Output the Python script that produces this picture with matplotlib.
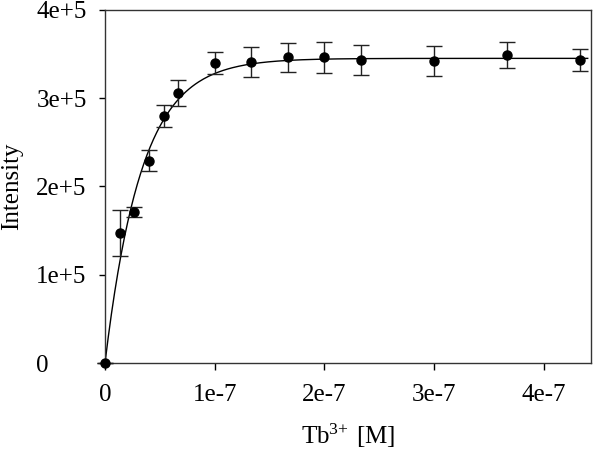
import numpy as np
import matplotlib
matplotlib.use('Agg')
import matplotlib.pyplot as plt

plt.rcParams['font.family'] = ['Liberation Serif', 'DejaVu Serif']
plt.rcParams['mathtext.fontset'] = 'custom'
plt.rcParams['mathtext.rm'] = 'Liberation Serif'
plt.rcParams['mathtext.default'] = 'regular'

# Tb3+ concentration [M] and measured intensity with error bars
conc = np.array([0, 1.333, 2.667, 4.0, 5.333, 6.667, 10.0, 13.33, 16.67,
                 20.0, 23.33, 30.0, 36.67, 43.33]) * 1e-8
intensity = np.array([0, 1.47, 1.71, 2.29, 2.80, 3.06, 3.40, 3.41, 3.46,
                      3.46, 3.43, 3.42, 3.49, 3.43]) * 1e5
err = np.array([0, 0.26, 0.06, 0.12, 0.125, 0.15, 0.125, 0.17, 0.167,
                0.17, 0.17, 0.17, 0.15, 0.125]) * 1e5

# single exponential rise-to-max fit, y = a*(1-exp(-b*x))
fit_max = 3.45e5
fit_rate = 3.0e7

xticks = [0, 1e-7, 2e-7, 3e-7, 4e-7]
xtick_labels = ['0', '1e-7', '2e-7', '3e-7', '4e-7']
yticks = [0, 1e5, 2e5, 3e5, 4e5]
ytick_labels = ['0', '1e+5', '2e+5', '3e+5', '4e+5']

fig = plt.figure(figsize=(6, 4.54), dpi=100)
ax = fig.add_axes([0.175, 0.2004, 0.81, 0.778])

xfit = np.linspace(0, 4.4e-7, 300)
ax.plot(xfit, fit_max * (1 - np.exp(-fit_rate * xfit)), color='black', lw=1.0)
ax.errorbar(conc, intensity, yerr=err, fmt='o', color='black', ms=6.5,
            ecolor='#222222', elinewidth=1.0, capsize=5.5, capthick=1.0,
            clip_on=False, zorder=3)

ax.set_xlim(0, 4.43e-7)
ax.set_ylim(0, 4e5)
ax.set_xticks(xticks)
ax.set_xticklabels(xtick_labels)
ax.set_yticks(yticks)
ax.set_yticklabels(ytick_labels)
for lab in ax.get_yticklabels():
    lab.set_horizontalalignment('left')

ax.tick_params(axis='x', direction='out', length=5, width=1, pad=10,
               labelsize=18, top=False)
ax.tick_params(axis='y', direction='out', length=4.5, width=1, pad=45,
               labelsize=18, right=False)
for sp in ax.spines.values():
    sp.set_linewidth(1.0)
    sp.set_color('#333333')

ax.set_xlabel(r'Tb$^{\text{3+}}\ $[M]', fontsize=18)
ax.set_ylabel('Intensity', fontsize=18)
ax.xaxis.set_label_coords(0.5, -0.167)
ax.yaxis.set_label_coords(-0.168, 0.5)

fig.savefig('out.png', dpi=100)
